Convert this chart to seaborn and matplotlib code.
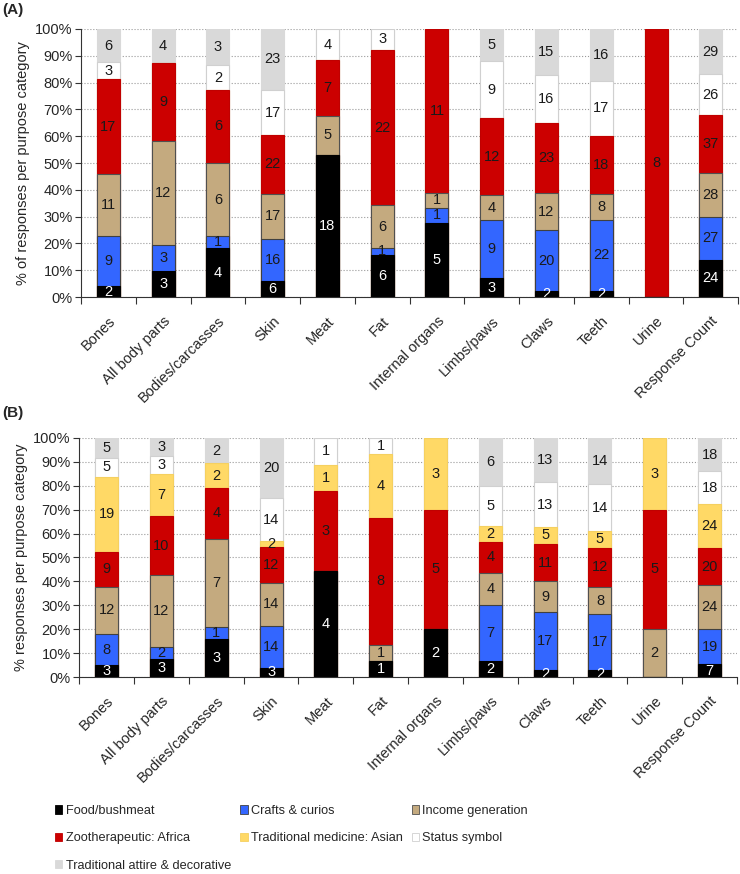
# %%
# Stacked % bars of responses per body part and purpose, panels A and B
import numpy as np
import pandas as pd
import matplotlib.pyplot as plt
import seaborn as sns
from matplotlib.patches import Patch

sns.set_style('ticks')
plt.rcParams['font.family'] = ['Liberation Sans', 'DejaVu Sans']

# %%
# Data (response counts)
parts = ['Bones', 'All body parts', 'Bodies/carcasses', 'Skin', 'Meat', 'Fat',
         'Internal organs', 'Limbs/paws', 'Claws', 'Teeth', 'Urine', 'Response Count']
purposes = ['Food/bushmeat', 'Crafts & curios', 'Income generation',
            'Zootherapeutic: Africa', 'Traditional medicine: Asian',
            'Status symbol', 'Traditional attire & decorative']

a_food = [2, 3, 4, 6, 18, 6, 5, 3, 2, 2, 0, 24]
a_crafts = [9, 3, 1, 16, 0, 1, 1, 9, 20, 22, 0, 27]
a_income = [11, 12, 6, 17, 5, 6, 1, 4, 12, 8, 0, 28]
a_zoo = [17, 9, 6, 22, 7, 22, 11, 12, 23, 18, 8, 37]
a_asian = [0, 0, 0, 0, 0, 0, 0, 0, 0, 0, 0, 0]
a_status = [3, 0, 2, 17, 4, 3, 0, 9, 16, 17, 0, 26]
a_attire = [6, 4, 3, 23, 0, 0, 0, 5, 15, 16, 0, 29]

b_food = [3, 3, 3, 3, 4, 1, 2, 2, 2, 2, 0, 7]
b_crafts = [8, 2, 1, 14, 0, 0, 0, 7, 17, 17, 0, 19]
b_income = [12, 12, 7, 14, 0, 1, 0, 4, 9, 8, 2, 24]
b_zoo = [9, 10, 4, 12, 3, 8, 5, 4, 11, 12, 5, 20]
b_asian = [19, 7, 2, 2, 1, 4, 3, 2, 5, 5, 3, 24]
b_status = [5, 3, 0, 14, 1, 1, 0, 5, 13, 14, 0, 18]
b_attire = [5, 3, 2, 20, 0, 0, 0, 6, 13, 14, 0, 18]

colors = ['#000000', '#3366FF', '#C4AA7F', '#CC0000', '#FFD966', '#FFFFFF', '#D9D9D9']
edges = ['#000000', '#404040', '#505050', '#C00000', '#F5D060', '#D0D0D0', '#D9D9D9']


# %%
def draw_panel(ax, series, ylabel):
    counts = pd.DataFrame(dict(zip(purposes, series)), index=parts)
    pct = counts.div(counts.sum(axis=1), axis=0) * 100
    cum = pct.cumsum(axis=1)
    # draw cumulative bars from the top down so each one covers the next
    for i in reversed(range(len(purposes))):
        sns.barplot(x=parts, y=cum.iloc[:, i].values, order=parts,
                    color=colors[i], edgecolor=edges[i], linewidth=0.8,
                    width=0.42, saturation=1, errorbar=None, ax=ax)
    # segment labels
    for j, part in enumerate(parts):
        for i, p in enumerate(purposes):
            n = counts.loc[part, p]
            if n == 0:
                continue
            y = cum.loc[part, p] - pct.loc[part, p] / 2
            ax.text(j, y, str(n), ha='center', va='center', fontsize=10.5,
                    color='white' if i == 0 else '#1a1a1a', clip_on=True)

    ax.set_xlim(-0.5, len(parts) - 0.5)
    ax.set_ylim(0, 100)
    ax.set_yticks(np.arange(0, 101, 10))
    ax.set_yticklabels([f'{v}%' for v in range(0, 101, 10)], fontsize=10.5)
    ax.set_xticks(np.arange(-0.5, len(parts), 1))
    ax.set_xticklabels([])
    ax.set_xticks(np.arange(len(parts)), minor=True)
    ax.set_xticklabels(parts, minor=True, rotation=45, ha='right',
                       rotation_mode='anchor', fontsize=10.5)
    ax.tick_params(axis='x', which='major', length=5, color='#333333')
    ax.tick_params(axis='x', which='minor', length=0, pad=12)
    ax.tick_params(axis='y', length=4, color='#333333', pad=2)
    ax.set_xlabel('')
    ax.set_ylabel(ylabel, fontsize=10.5, labelpad=4)
    ax.yaxis.grid(True, linestyle=':', color='#9a9a9a', linewidth=0.8)
    ax.xaxis.grid(False)
    ax.set_axisbelow(True)
    sns.despine(ax=ax)
    for s in ['left', 'bottom']:
        ax.spines[s].set_color('#333333')


# %%
fig = plt.figure(figsize=(7.4, 8.74), dpi=100)
ax_a = fig.add_axes([0.1095, 0.660, 0.888, 0.307])
ax_b = fig.add_axes([0.107, 0.2254, 0.889, 0.2735])

draw_panel(ax_a, [a_food, a_crafts, a_income, a_zoo, a_asian, a_status, a_attire],
           '% of responses per purpose category')
draw_panel(ax_b, [b_food, b_crafts, b_income, b_zoo, b_asian, b_status, b_attire],
           '% responses per purpose category')

fig.text(0.003, 0.988, '(A)', fontsize=11, fontweight='bold', va='center')
fig.text(0.003, 0.527, '(B)', fontsize=11, fontweight='bold', va='center')

# legend, filled row by row in 3 columns
handles = [Patch(facecolor=c, edgecolor=e, linewidth=0.6) for c, e in zip(colors, edges)]
order = [0, 3, 6, 1, 4, 2, 5]
fig.legend([handles[k] for k in order], [purposes[k] for k in order],
           ncol=3, loc='upper left', bbox_to_anchor=(0.074, 0.079),
           frameon=False, fontsize=9.2,
           handlelength=0.6, handleheight=0.6,
           handletextpad=0.25, columnspacing=0.7, labelspacing=1.2,
           borderaxespad=0, borderpad=0)

fig.savefig('out.png', dpi=100)
